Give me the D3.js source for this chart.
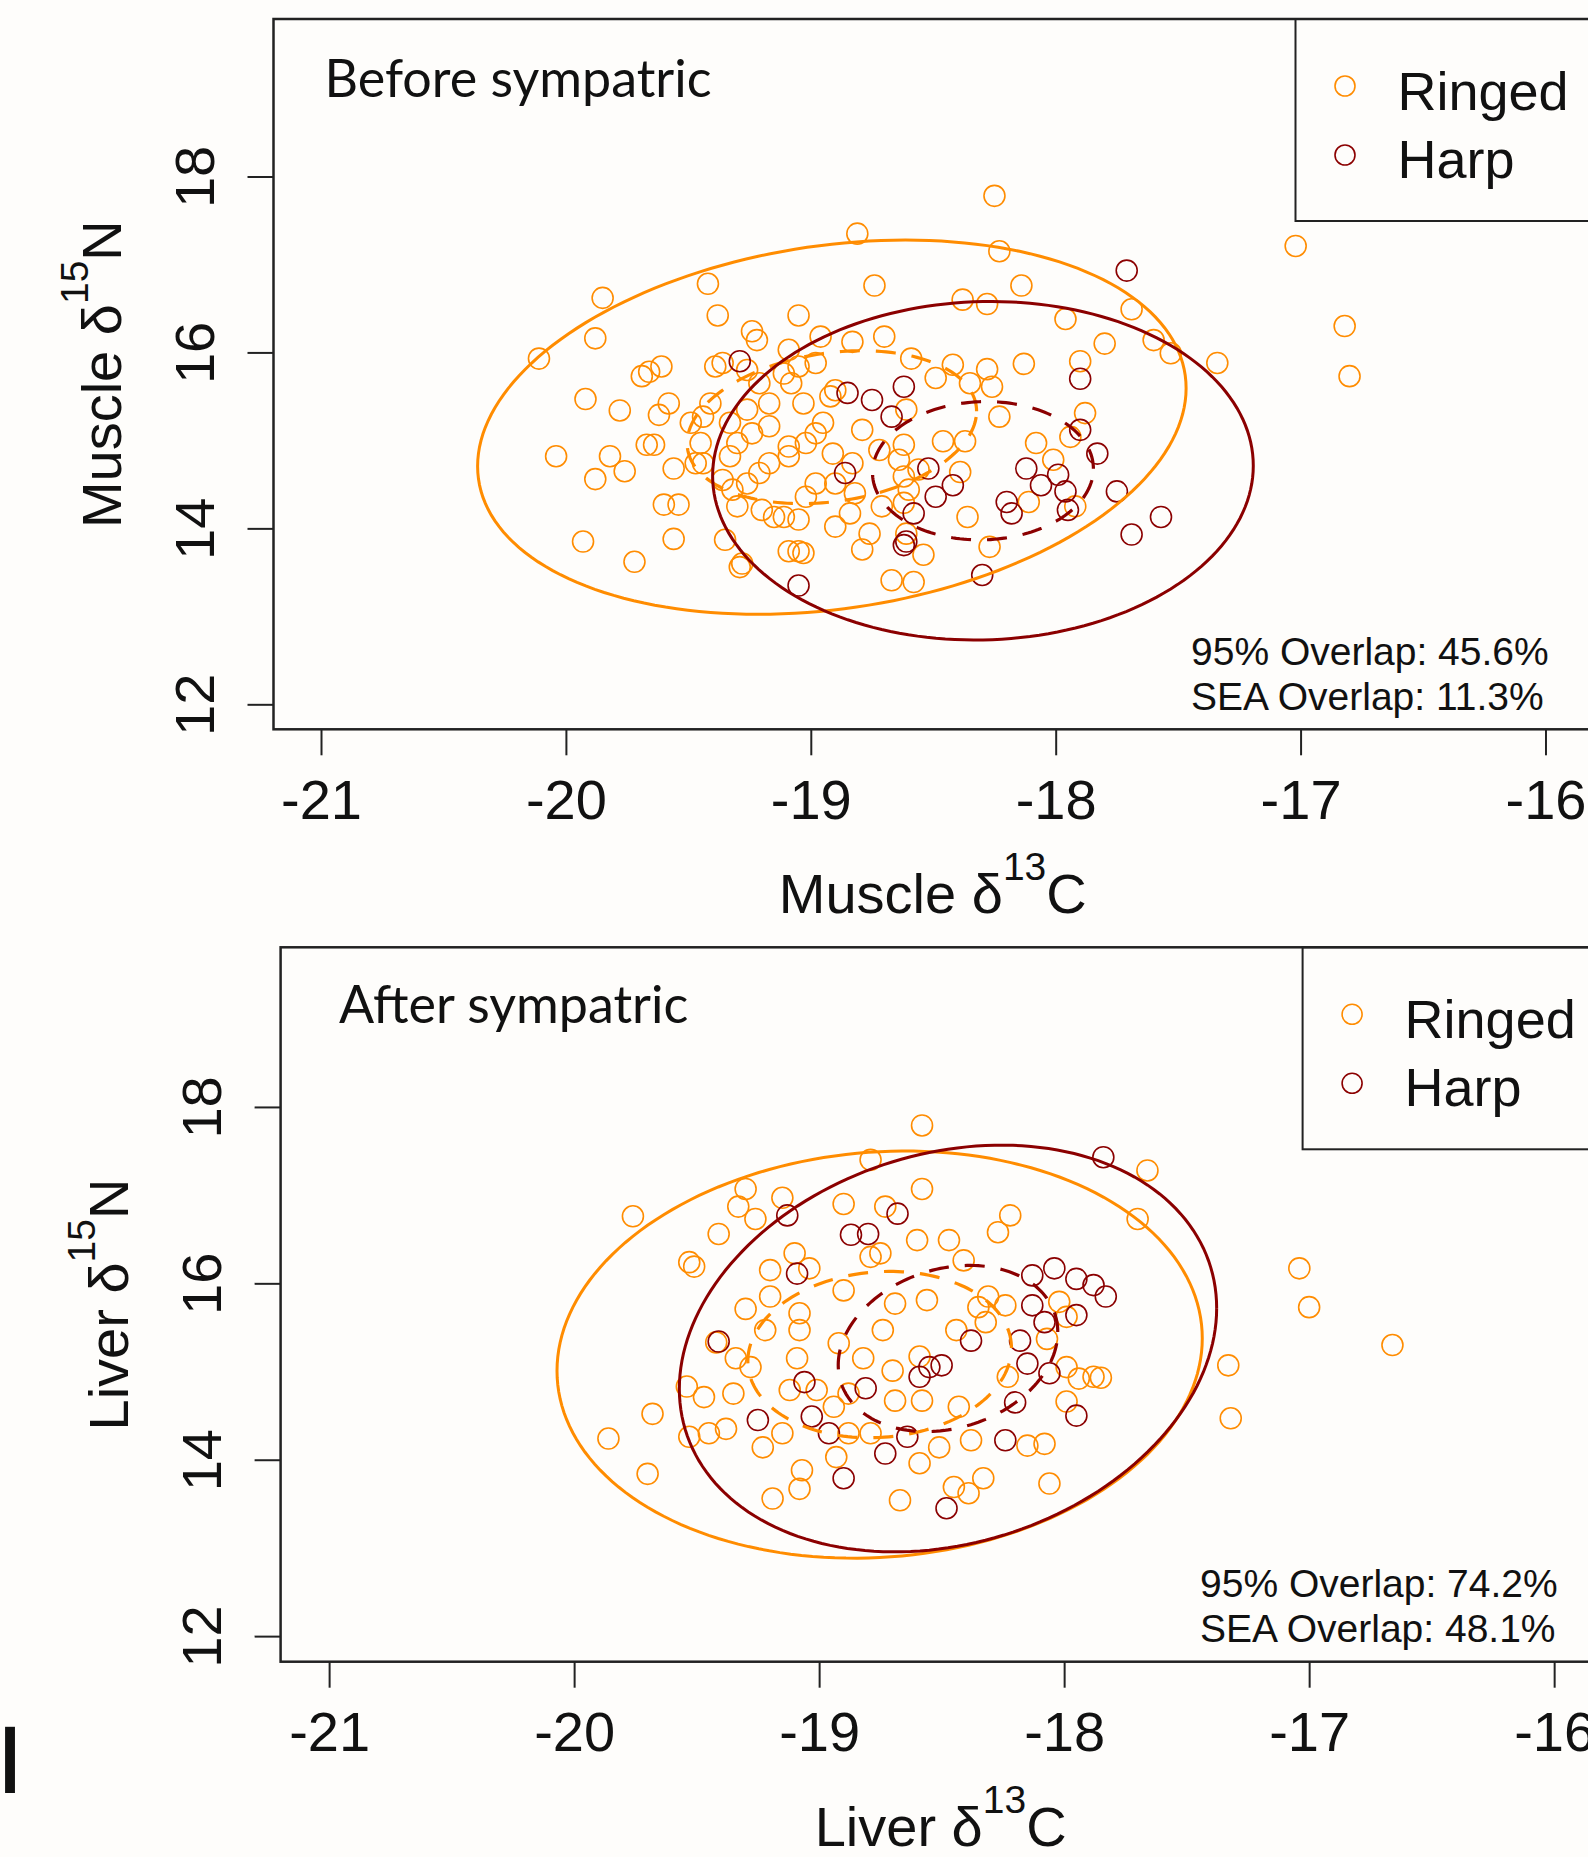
<!DOCTYPE html>
<html>
<head>
<meta charset="utf-8">
<script src="https://cdn.jsdelivr.net/npm/d3@7"></script>
<style>
  body { margin: 0; background: #fefdfb; }
  svg { display: block; background: #fefdfb; }
  .tick text, .axis-title, .note, .legend-text { font-family: 'Liberation Sans', Arial, sans-serif; fill: #111; }
  .panel-label { font-family: Lato, 'Open Sans', sans-serif; fill: #111; }
</style>
</head>
<body>
<svg width="1588" height="1857"></svg>
<script>
const xTicks = [-21, -20, -19, -18, -17, -16];
const yTicks = [12, 14, 16, 18];
const species = ['Ringed', 'Harp'];
const speciesColors = ['#ff8c00', '#8b0000'];

// muscle (before sympatric)
const beforeRinged = [
  [-18.81,17.35],[-19.85,16.62],[-19.42,16.78],[-18.74,16.76],[-19.38,16.42],[-19.05,16.42],[-19.88,16.16],[-20.11,15.93],
  [-19.69,15.73],[-19.66,15.78],[-19.61,15.84],[-19.92,15.47],[-19.78,15.34],[-19.58,15.42],[-19.62,15.29],[-19.39,15.84],
  [-19.24,16.24],[-19.22,16.14],[-20.04,14.82],[-19.82,14.82],[-19.76,14.65],[-19.88,14.56],[-19.67,14.95],[-19.64,14.95],
  [-19.56,14.68],[-19.60,14.27],[-19.54,14.27],[-19.93,13.85],[-19.72,13.62],[-19.56,13.88],[-19.35,13.87],[-19.29,13.56],
  [-19.05,13.74],[-19.09,13.74],[-19.49,15.20],[-19.45,14.97],[-19.44,14.74],
  [-19.26,15.80],[-19.21,15.65],[-19.11,15.76],[-19.08,15.65],[-19.05,15.84],[-18.98,15.88],[-18.92,15.50],[-18.90,15.57],
  [-18.83,16.12],[-18.70,16.18],[-18.95,15.20],[-18.98,15.08],[-19.02,14.97],[-19.09,14.93],[-19.09,14.82],[-19.17,14.74],
  [-19.21,14.63],[-19.26,14.51],[-19.32,14.44],[-19.36,14.55],[-19.30,14.25],[-19.20,14.21],[-19.15,14.13],[-19.11,14.13],
  [-19.05,14.10],[-18.90,14.02],[-18.84,14.17],[-18.79,13.76],[-18.76,13.94],[-18.71,14.25],[-18.67,13.41],[-18.62,14.29],
  [-18.91,14.85],[-18.83,14.74],[-18.98,14.51],[-18.90,14.51],[-19.02,14.36],[-19.03,15.42],[-19.17,15.42],[-19.26,15.35],
  [-19.33,15.20],[-19.24,15.08],[-19.17,15.16],[-19.33,14.82],[-19.30,14.97],[-19.41,15.42],[-19.44,15.27],[-19.47,14.74],
  [-19.36,15.88],[-19.09,16.03],[-18.96,16.18],[-18.64,14.78],[-18.62,14.59],[-18.61,13.94],[-19.28,13.60],[-18.79,15.12],
  [-18.72,14.89],[-18.82,14.40],[-19.03,13.72],
  [-18.25,17.78],[-18.23,17.15],[-18.14,16.76],[-18.38,16.60],[-18.28,16.55],[-17.96,16.38],[-17.69,16.49],[-17.80,16.10],
  [-17.60,16.14],[-17.53,15.99],[-17.34,15.88],[-17.02,17.21],[-16.82,16.30],[-16.80,15.73],[-17.90,15.90],[-18.13,15.87],
  [-18.28,15.81],[-18.42,15.86],[-18.59,15.93],[-18.49,15.71],[-18.26,15.61],[-18.35,15.65],[-18.23,15.27],[-17.88,15.31],
  [-17.94,15.04],[-18.08,14.97],[-18.46,14.99],[-18.37,14.99],[-18.62,14.95],[-18.01,14.78],[-18.39,14.64],[-18.11,14.30],
  [-17.92,14.25],[-18.36,14.13],[-18.27,13.79],[-18.54,13.70],[-18.58,13.39],[-18.61,15.35],[-18.56,14.67],[-18.60,14.44]
];
const beforeHarp = [
  [-19.29,15.90],[-18.85,15.54],[-18.75,15.46],[-18.67,15.27],[-18.62,15.61],[-18.86,14.63],[-18.62,13.81],[-19.05,13.35],
  [-17.71,16.93],[-17.90,15.70],[-17.90,15.12],[-17.83,14.85],[-18.52,14.68],[-18.42,14.49],[-18.49,14.36],[-18.12,14.68],
  [-18.06,14.49],[-17.99,14.61],[-18.20,14.30],[-18.18,14.17],[-17.96,14.42],[-17.95,14.21],[-17.75,14.42],[-17.57,14.13],
  [-17.69,13.93],[-18.58,14.17],[-18.61,13.85],[-18.30,13.47]
];

// liver (after sympatric)
const afterRinged = [
  [-18.58,17.79],[-19.76,16.76],[-19.30,17.07],[-19.15,16.97],[-19.33,16.87],[-19.26,16.73],[-19.41,16.56],[-19.53,16.24],
  [-19.51,16.19],[-18.58,17.07],[-18.90,16.90],[-18.79,17.40],[-18.73,16.87],[-18.60,16.49],[-18.47,16.49],[-19.10,16.34],
  [-19.20,16.15],[-19.04,16.17],[-18.90,15.92],[-18.79,16.30],[-18.75,16.34],[-18.56,15.81],[-18.69,15.77],[-19.30,15.71],
  [-19.20,15.85],[-19.08,15.66],[-19.08,15.47],[-19.22,15.47],[-19.42,15.33],[-19.34,15.15],[-19.28,15.05],[-19.09,15.15],
  [-18.92,15.32],[-18.82,15.15],[-18.74,15.47],[-18.70,15.01],[-18.59,15.17],[-18.44,15.47],[-18.43,14.60],[-19.68,14.52],
  [-19.86,14.24],[-19.70,13.84],[-19.54,14.83],[-19.47,14.71],[-19.35,14.75],[-19.38,14.35],[-19.45,14.30],[-19.23,14.14],
  [-19.15,14.30],[-19.12,14.79],[-19.01,14.79],[-18.94,14.60],[-18.88,14.75],[-18.88,14.30],[-18.93,14.03],[-18.79,14.30],
  [-18.69,14.67],[-18.58,14.67],[-18.51,14.14],[-18.59,13.96],[-19.07,13.88],[-19.08,13.67],[-19.19,13.56],[-18.67,13.54],
  [-18.45,13.69],[-19.53,14.26],
  [-17.66,17.28],[-17.70,16.73],[-18.22,16.77],[-18.27,16.58],[-18.41,16.26],[-17.04,16.17],[-17.00,15.73],[-16.66,15.30],
  [-17.33,15.07],[-17.32,14.47],[-18.31,15.85],[-18.24,15.75],[-18.35,15.73],[-18.02,15.79],[-17.99,15.62],[-18.32,15.56],
  [-17.99,15.05],[-17.94,14.92],[-17.88,14.94],[-17.85,14.93],[-17.99,14.66],[-18.08,14.18],[-18.15,14.16],[-18.06,13.73],
  [-18.33,13.79],[-18.39,13.62],[-18.38,14.22],[-18.23,14.94],[-18.07,15.37]
];
const afterHarp = [
  [-19.13,16.77],[-18.87,16.55],[-18.80,16.56],[-18.68,16.79],[-19.09,16.11],[-19.41,15.34],[-18.55,15.05],[-18.50,15.07],
  [-18.59,14.94],[-19.06,14.88],[-18.81,14.81],[-19.25,14.45],[-19.03,14.49],[-18.96,14.30],[-18.73,14.07],[-18.64,14.26],
  [-18.90,13.79],[-18.48,13.45],[-17.84,17.43],[-18.13,16.09],[-18.04,16.17],[-17.95,16.05],[-17.88,15.98],[-17.83,15.85],
  [-18.13,15.75],[-18.08,15.56],[-17.95,15.64],[-18.18,15.35],[-18.15,15.09],[-18.06,14.98],[-18.20,14.65],[-17.95,14.50],
  [-18.24,14.22],[-18.38,15.35]
];

// SEA ellipses [cx, cy, rx, ry, phi]; the 95% ellipse is the SEA scaled up
const beforeEllipses = [[-18.914, 15.15, 0.591, 0.869, 0.21], [-18.297, 14.655, 0.451, 0.786, 0.03]];
const afterEllipses = [[-18.753, 15.192, 0.538, 0.943, 0.08], [-18.474, 15.261, 0.448, 0.942, 0.2]];
const scale95 = Math.sqrt(5.991);

const overlapBefore = ['95% Overlap: 45.6%', 'SEA Overlap: 11.3%'];
const overlapAfter = ['95% Overlap: 74.2%', 'SEA Overlap: 48.1%'];

const panels = [
  { left: 273.5, top: 19, right: 1592, bottom: 729.3, xDomain: [-21.194, -15.81], yDomain: [11.716, 19.79],
    label: 'Before sympatric', labelX: 51, labelY: 78, tissue: 'Muscle',
    points: [beforeRinged, beforeHarp], ellipses: beforeEllipses, overlap: overlapBefore, noteX: 917.5 },
  { left: 280.6, top: 947.3, right: 1600.7, bottom: 1661.7, xDomain: [-21.198, -15.81], yDomain: [11.71, 19.81],
    label: 'After sympatric', labelX: 58.4, labelY: 76, tissue: 'Liver',
    points: [afterRinged, afterHarp], ellipses: afterEllipses, overlap: overlapAfter, noteX: 919.4 }
];

const svg = d3.select('svg');

const ellipsePath = (e, k) => d3.range(0, 361, 2).map(deg => {
  const t = deg * Math.PI / 180;
  return [e[0] + k * e[2] * Math.cos(t), e[1] + k * e[3] * Math.sin(t + e[4])];
});

// text with a superscript isotope number, e.g. Muscle δ13C
function isoTitle(sel, name, iso, elem) {
  sel.append('tspan').text(name + ' \u03b4');
  sel.append('tspan').attr('font-size', 39).attr('dy', -33).text(iso);
  sel.append('tspan').attr('dy', 33).text(elem);
}

panels.forEach(p => {
  const x = d3.scaleLinear().domain(p.xDomain).range([p.left, p.right]);
  const y = d3.scaleLinear().domain(p.yDomain).range([p.bottom, p.top]);
  const g = svg.append('g');

  // points
  p.points.forEach((pts, i) => {
    g.append('g').selectAll('circle')
      .data(pts)
      .enter()
      .append('circle')
      .attr('cx', d => x(d[0]))
      .attr('cy', d => y(d[1]))
      .attr('r', 10.5)
      .attr('fill', 'none')
      .attr('stroke', speciesColors[i])
      .attr('stroke-width', 1.6);
  });

  const line = d3.line().x(d => x(d[0])).y(d => y(d[1]));

  // 95% ellipses (solid) and SEA (dashed)
  p.ellipses.forEach((e, i) => {
    g.append('path')
      .attr('d', line(ellipsePath(e, scale95)))
      .attr('fill', 'none')
      .attr('stroke', speciesColors[i])
      .attr('stroke-width', 3);
    g.append('path')
      .attr('d', line(ellipsePath(e, 1)))
      .attr('fill', 'none')
      .attr('stroke', speciesColors[i])
      .attr('stroke-width', 3.2)
      .attr('stroke-dasharray', '20,16');
  });

  // axes
  const xAxis = g.append('g')
    .attr('transform', `translate(0, ${p.bottom})`)
    .call(d3.axisBottom(x).tickValues(xTicks).tickSize(26).tickPadding(24).tickFormat(d => String(d)));
  xAxis.select('.domain').remove();
  xAxis.selectAll('line').attr('stroke', '#222').attr('stroke-width', 2);
  xAxis.selectAll('text').attr('font-size', 56).attr('fill', '#111')
    .attr('font-family', "'Liberation Sans', Arial, sans-serif");

  const yAxis = g.append('g')
    .attr('transform', `translate(${p.left}, 0)`)
    .call(d3.axisLeft(y).tickValues(yTicks).tickSize(26));
  yAxis.select('.domain').remove();
  yAxis.selectAll('line').attr('stroke', '#222').attr('stroke-width', 2);
  yAxis.selectAll('text')
    .attr('x', null).attr('dy', null)
    .attr('transform', 'translate(-59.5, 0) rotate(-90)')
    .attr('text-anchor', 'middle')
    .attr('font-size', 56).attr('fill', '#111')
    .attr('font-family', "'Liberation Sans', Arial, sans-serif");

  // plot frame
  g.append('rect')
    .attr('x', p.left).attr('y', p.top)
    .attr('width', p.right - p.left).attr('height', p.bottom - p.top)
    .attr('fill', 'none').attr('stroke', '#222').attr('stroke-width', 2.5);

  // axis titles
  g.append('text')
    .attr('class', 'axis-title')
    .attr('x', (p.left + p.right) / 2)
    .attr('y', p.bottom + 184)
    .attr('text-anchor', 'middle')
    .attr('font-size', 56)
    .call(isoTitle, p.tissue, '13', 'C');

  g.append('text')
    .attr('class', 'axis-title')
    .attr('transform', `translate(${p.left - 152.5}, ${(p.top + p.bottom) / 2}) rotate(-90)`)
    .attr('text-anchor', 'middle')
    .attr('font-size', 56)
    .call(isoTitle, p.tissue, '15', 'N');

  // panel label
  g.append('text')
    .attr('class', 'panel-label')
    .attr('x', p.left + p.labelX)
    .attr('y', p.top + p.labelY)
    .attr('font-size', 52)
    .text(p.label);

  // legend
  const lx = p.left + 1022;
  g.append('rect')
    .attr('x', lx).attr('y', p.top)
    .attr('width', 400).attr('height', 202)
    .attr('fill', 'none').attr('stroke', '#222').attr('stroke-width', 2);
  species.forEach((s, i) => {
    g.append('circle')
      .attr('cx', lx + 49.5)
      .attr('cy', p.top + 67 + i * 69)
      .attr('r', 10)
      .attr('fill', 'none')
      .attr('stroke', speciesColors[i])
      .attr('stroke-width', 1.6);
    g.append('text')
      .attr('class', 'legend-text')
      .attr('x', lx + 102)
      .attr('y', p.top + 91 + i * 68)
      .attr('font-size', 54)
      .text(s);
  });

  // overlap notes
  g.selectAll('.note')
    .data(p.overlap)
    .enter()
    .append('text')
    .attr('class', 'note')
    .attr('x', p.left + p.noteX)
    .attr('y', (d, i) => p.bottom - 64.5 + i * 45)
    .attr('font-size', 39)
    .attr('fill', '#222')
    .text(d => d);
});

// cut-off glyph at the lower left edge
svg.append('text')
  .attr('x', -2)
  .attr('y', 1793)
  .attr('font-family', "'Open Sans', sans-serif")
  .attr('font-weight', 600)
  .attr('font-size', 86)
  .attr('fill', '#111')
  .text('l');
</script>
</body>
</html>
